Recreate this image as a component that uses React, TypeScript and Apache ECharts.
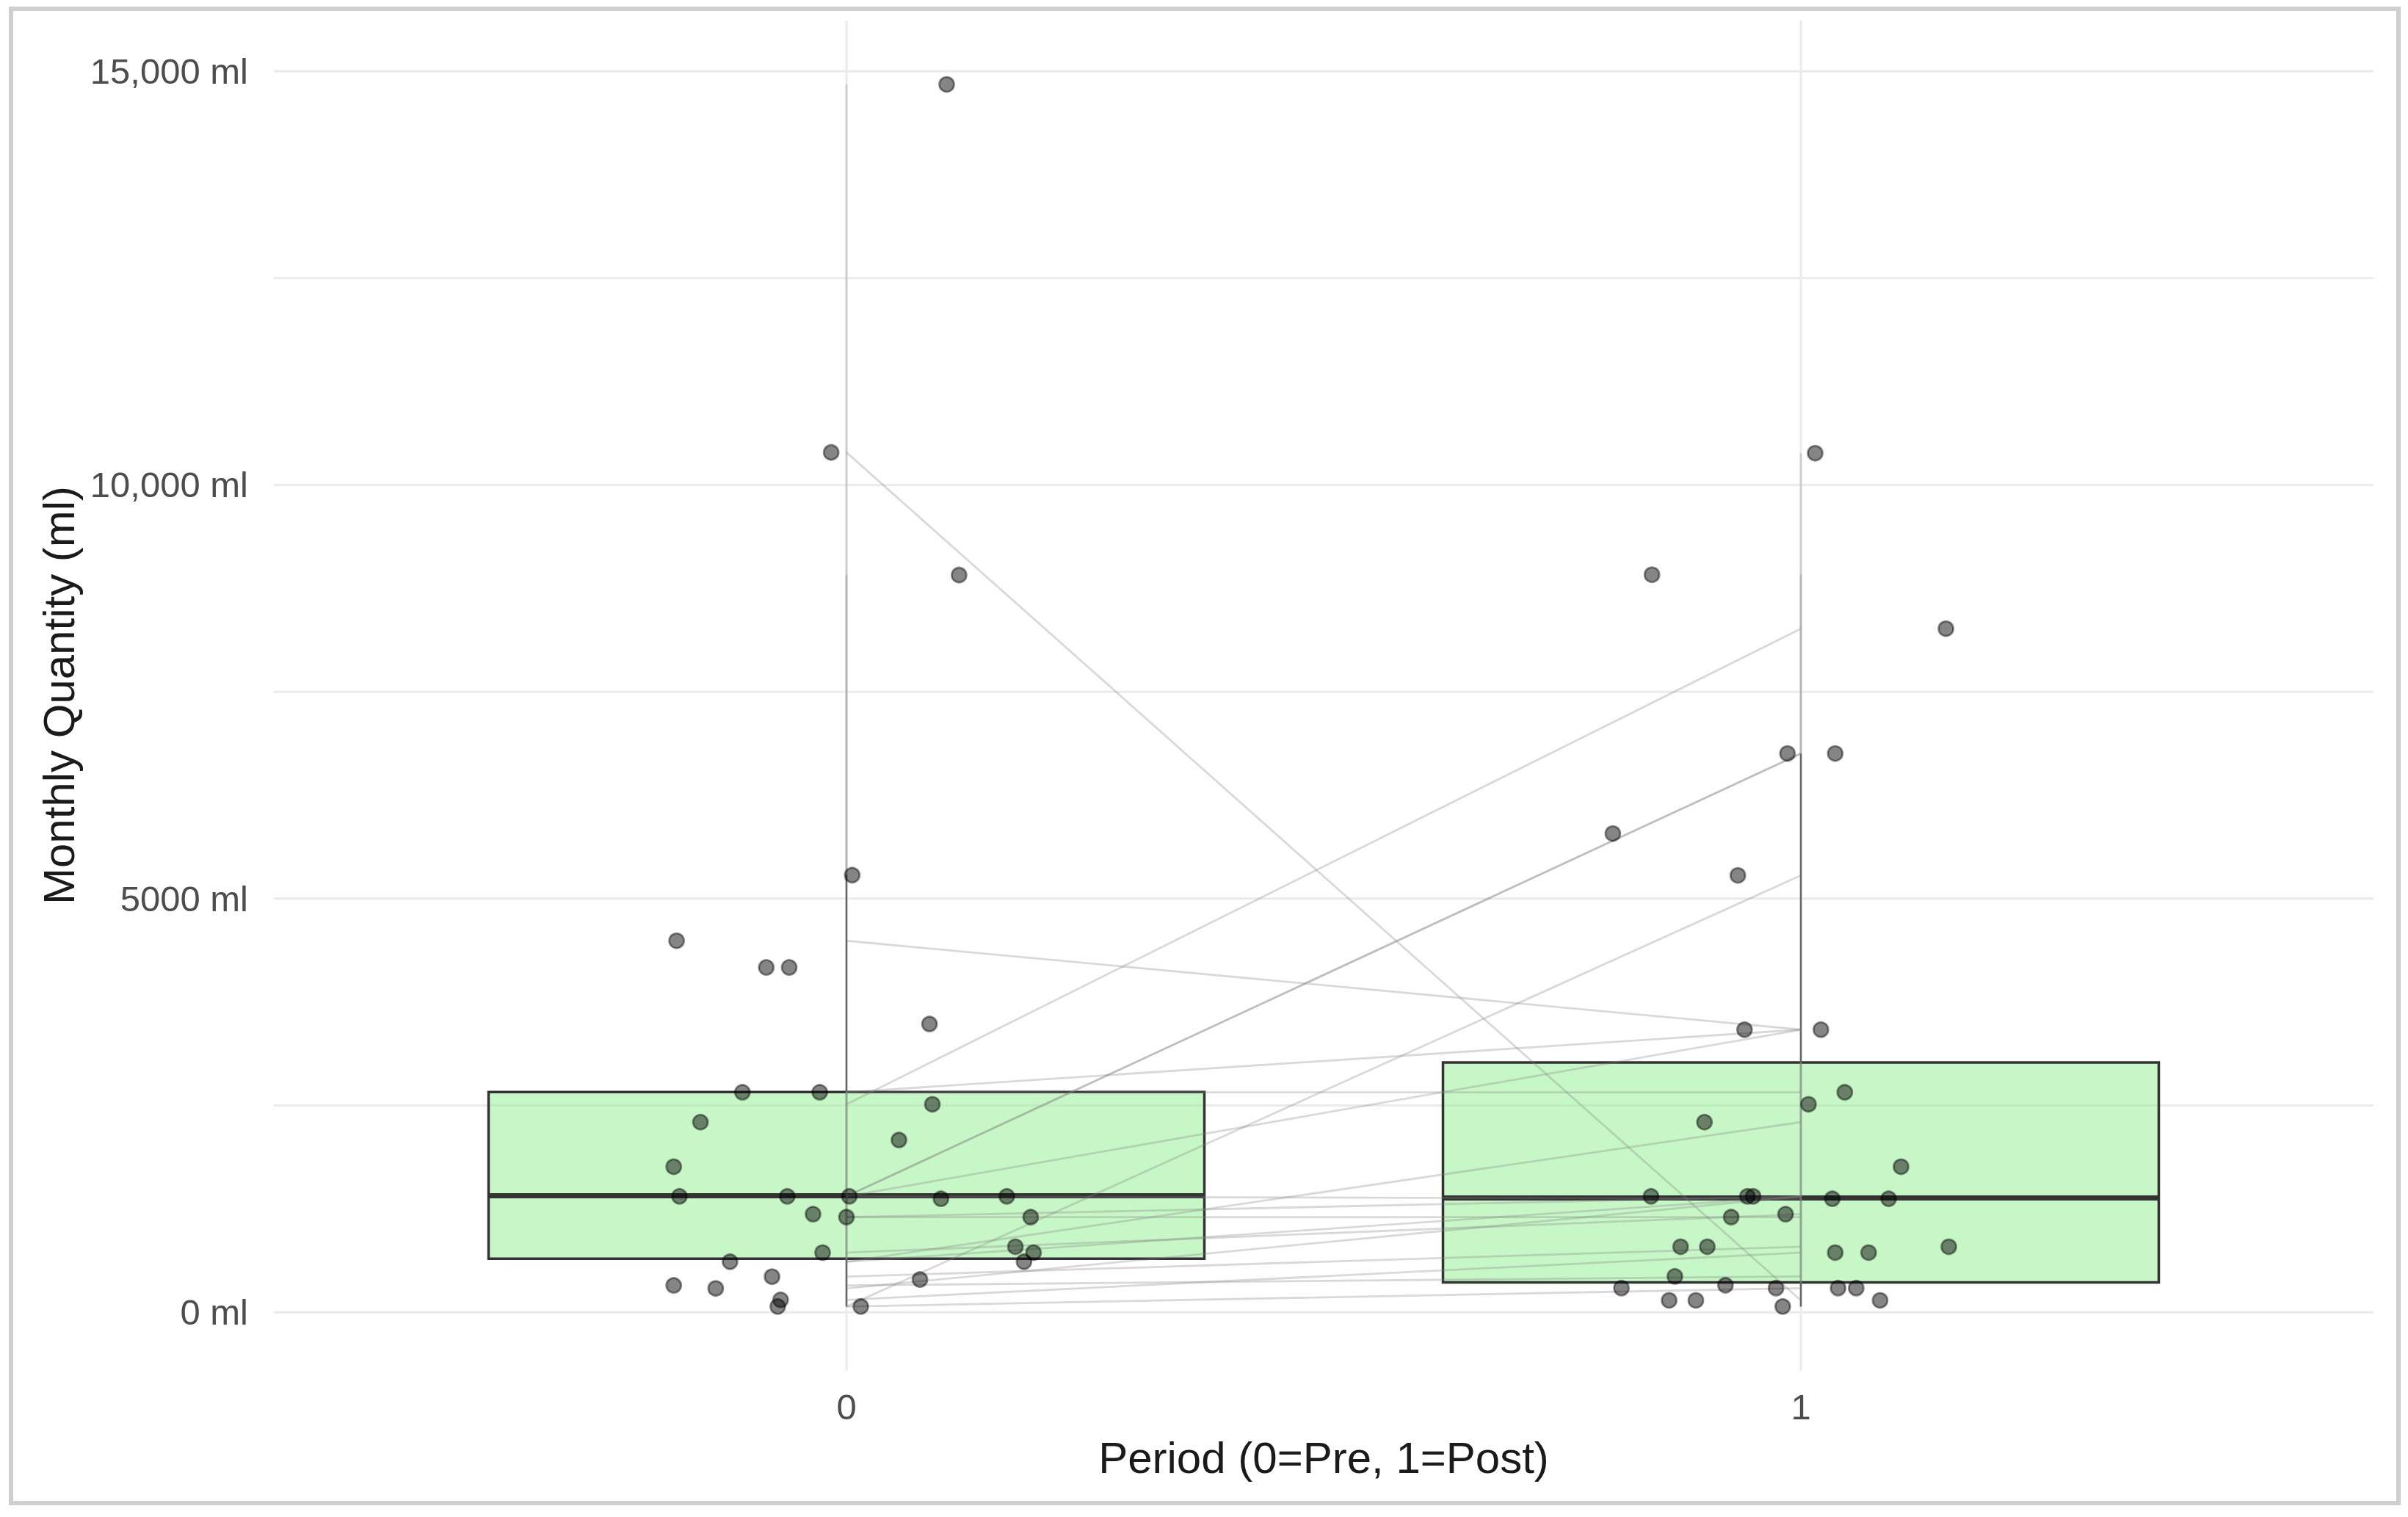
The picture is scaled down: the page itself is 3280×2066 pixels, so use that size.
import React, { useEffect, useRef } from "react";
import * as echarts from "echarts";

// ---- axis ticks ----
const periods = [0, 1];
const periodLabels = ["0", "1"];
const yTicks = [0, 5000, 10000, 15000];
const yTickLabels = ["0 ml", "5000 ml", "10,000 ml", "15,000 ml"];
const yMinorTicks = [2500, 7500, 12500];

// ---- observations (value, horizontal jitter in period units) ----
const preValues = [14840, 10393, 8911, 5284, 4491, 4169, 4169, 3485, 2660, 2660, 2515, 2299, 2083, 1760, 1402, 1402, 1402, 1373, 1402, 1187, 1151, 1151, 793, 722, 722, 612, 612, 432, 397, 326, 290, 151, 71, 71];
const preJitter = [0.105, -0.016, 0.118, 0.006, -0.178, -0.084, -0.06, 0.087, -0.109, -0.028, 0.09, -0.153, 0.055, -0.181, -0.175, -0.062, 0.003, 0.099, 0.168, -0.035, 0.0, 0.193, 0.177, -0.025, 0.196, 0.186, -0.122, -0.078, 0.077, -0.181, -0.137, -0.069, -0.072, 0.015];
const postValues = [10384, 8915, 8263, 6754, 6754, 5787, 5281, 3417, 3417, 2660, 2515, 2299, 1760, 1402, 1402, 1402, 1373, 1373, 1187, 1151, 793, 793, 793, 722, 722, 435, 293, 293, 293, 293, 328, 145, 145, 145, 71];
const postJitter = [0.015, -0.156, 0.152, -0.014, 0.036, -0.197, -0.066, -0.059, 0.021, 0.046, 0.008, -0.101, 0.105, -0.157, -0.056, -0.05, 0.033, 0.092, -0.016, -0.073, -0.126, -0.098, 0.155, 0.036, 0.071, -0.132, -0.188, -0.026, 0.039, 0.058, -0.079, -0.138, -0.11, 0.083, -0.019];

// ---- box statistics: [lower whisker, Q1, median, Q3, upper whisker] ----
const preBox = [71, 648, 1410, 2662, 5284];
const postBox = [71, 362, 1382, 3019, 6754];

// ---- paired lines (pre -> post) ----
const pairPre = [10393, 2515, 1402, 1402, 71, 4491, 2660, 1402, 2660, 612, 1402, 1151, 290, 722, 432, 151, 326, 71, 612, 1151];
const pairPost = [145, 8263, 6754, 6754, 5281, 3417, 3417, 3417, 2660, 2299, 1373, 1151, 1402, 1187, 793, 722, 435, 293, 1402, 1402];

// ---- within-period connecting segments ----
const vertPeriod = [0, 0, 0, 1, 1, 1];
const vertLow = [71, 71, 71, 71, 71, 71];
const vertHigh = [14840, 8911, 5284, 10384, 8915, 6754];

const FONT = "'Liberation Sans', Arial, sans-serif";

export default function App() {
  const ref = useRef<HTMLDivElement>(null);

  useEffect(() => {
    if (!ref.current) return;
    const chart = echarts.init(ref.current, undefined, { renderer: "svg" });

    const gridH = [...yTicks, ...yMinorTicks].map((v) => [v]);
    const gridV = periods.map((p) => [p]);
    const boxData = [
      [periods[0], ...preBox],
      [periods[1], ...postBox],
    ];
    const segData: number[][] = [];
    pairPre.forEach((v, i) => segData.push([periods[0], v, periods[1], pairPost[i]]));
    vertPeriod.forEach((p, i) => segData.push([p, vertLow[i], p, vertHigh[i]]));
    const pts = [
      ...preValues.map((v, i) => [periods[0] + preJitter[i], v]),
      ...postValues.map((v, i) => [periods[1] + postJitter[i], v]),
    ];

    const option: any = {
      animation: false,
      backgroundColor: "#ffffff",
      grid: { left: 373, top: 28, width: 2860, height: 1839, containLabel: false },
      xAxis: {
        type: "value",
        min: -0.6,
        max: 1.6,
        axisLine: { show: false },
        axisTick: { show: false },
        splitLine: { show: false },
        axisLabel: {
          customValues: periods,
          formatter: (v: number) => periodLabels[periods.indexOf(Math.round(v))] ?? "",
          fontSize: 49,
          color: "#4d4d4d",
          fontFamily: FONT,
          margin: 24,
        },
      },
      yAxis: {
        type: "value",
        min: -707,
        max: 15612,
        axisLine: { show: false },
        axisTick: { show: false },
        splitLine: { show: false },
        axisLabel: {
          customValues: yTicks,
          formatter: (v: number) => yTickLabels[yTicks.indexOf(Math.round(v))] ?? "",
          fontSize: 49,
          color: "#4d4d4d",
          fontFamily: FONT,
          margin: 35,
        },
      },
      graphic: [
        {
          type: "rect",
          shape: { x: 15, y: 12, width: 3252, height: 2035 },
          style: { fill: "none", stroke: "#cfcfcf", lineWidth: 6 },
          silent: true,
        },
        {
          type: "text",
          x: 1803,
          y: 1985,
          style: {
            text: "Period (0=Pre, 1=Post)",
            fontSize: 60,
            fontFamily: FONT,
            fill: "#1a1a1a",
            align: "center",
            verticalAlign: "middle",
          },
          silent: true,
        },
        {
          type: "text",
          x: 80,
          y: 947,
          rotation: Math.PI / 2,
          style: {
            text: "Monthly Quantity (ml)",
            fontSize: 60,
            fontFamily: FONT,
            fill: "#1a1a1a",
            align: "center",
            verticalAlign: "middle",
          },
          silent: true,
        },
      ],
      series: [
        {
          type: "custom",
          z: 0,
          silent: true,
          data: gridH,
          encode: { y: 0 },
          renderItem: (params: any, api: any) => {
            const cs = params.coordSys;
            const y = api.coord([0, api.value(0)])[1];
            return {
              type: "line",
              shape: { x1: cs.x, y1: y, x2: cs.x + cs.width, y2: y },
              style: { stroke: "#ebebeb", lineWidth: 3 },
            };
          },
        },
        {
          type: "custom",
          z: 0,
          silent: true,
          data: gridV,
          encode: { x: 0 },
          renderItem: (params: any, api: any) => {
            const cs = params.coordSys;
            const x = api.coord([api.value(0), 0])[0];
            return {
              type: "line",
              shape: { x1: x, y1: cs.y, x2: x, y2: cs.y + cs.height },
              style: { stroke: "#ebebeb", lineWidth: 3 },
            };
          },
        },
        {
          type: "custom",
          z: 1,
          silent: true,
          data: boxData,
          encode: { x: 0, y: [1, 2, 3, 4, 5] },
          renderItem: (params: any, api: any) => {
            const p = api.value(0);
            const lw = api.value(1), q1 = api.value(2), med = api.value(3), q3 = api.value(4), uw = api.value(5);
            const tl = api.coord([p - 0.375, q3]);
            const br = api.coord([p + 0.375, q1]);
            const mL = api.coord([p - 0.375, med]);
            const mR = api.coord([p + 0.375, med]);
            const c = api.coord([p, 0])[0];
            const yLw = api.coord([p, lw])[1];
            const yUw = api.coord([p, uw])[1];
            return {
              type: "group",
              children: [
                { type: "line", shape: { x1: c, y1: tl[1], x2: c, y2: yUw }, style: { stroke: "#333333", lineWidth: 2 } },
                { type: "line", shape: { x1: c, y1: br[1], x2: c, y2: yLw }, style: { stroke: "#333333", lineWidth: 2 } },
                {
                  type: "rect",
                  shape: { x: tl[0], y: tl[1], width: br[0] - tl[0], height: br[1] - tl[1] },
                  style: { fill: "rgba(144,238,144,0.5)", stroke: "#333333", lineWidth: 3.5 },
                },
                { type: "line", shape: { x1: mL[0], y1: mL[1], x2: mR[0], y2: mR[1] }, style: { stroke: "#333333", lineWidth: 7 } },
              ],
            };
          },
        },
        {
          type: "custom",
          z: 2,
          silent: true,
          data: segData,
          encode: { x: [0, 2], y: [1, 3] },
          renderItem: (params: any, api: any) => {
            const a = api.coord([api.value(0), api.value(1)]);
            const b = api.coord([api.value(2), api.value(3)]);
            return {
              type: "line",
              shape: { x1: a[0], y1: a[1], x2: b[0], y2: b[1] },
              style: { stroke: "rgba(128,128,128,0.3)", lineWidth: 2.8 },
            };
          },
        },
        {
          type: "scatter",
          z: 3,
          silent: true,
          data: pts,
          symbol: "circle",
          symbolSize: 20,
          itemStyle: {
            color: "rgba(0,0,0,0.6)",
            borderColor: "rgba(0,0,0,0.55)",
            borderWidth: 2.8,
          },
        },
      ],
    };

    chart.setOption(option);
    return () => chart.dispose();
  }, []);

  return (
    <div
      ref={ref}
      style={{ position: "fixed", left: 0, top: 0, width: 3280, height: 2066, background: "#ffffff" }}
    />
  );
}
